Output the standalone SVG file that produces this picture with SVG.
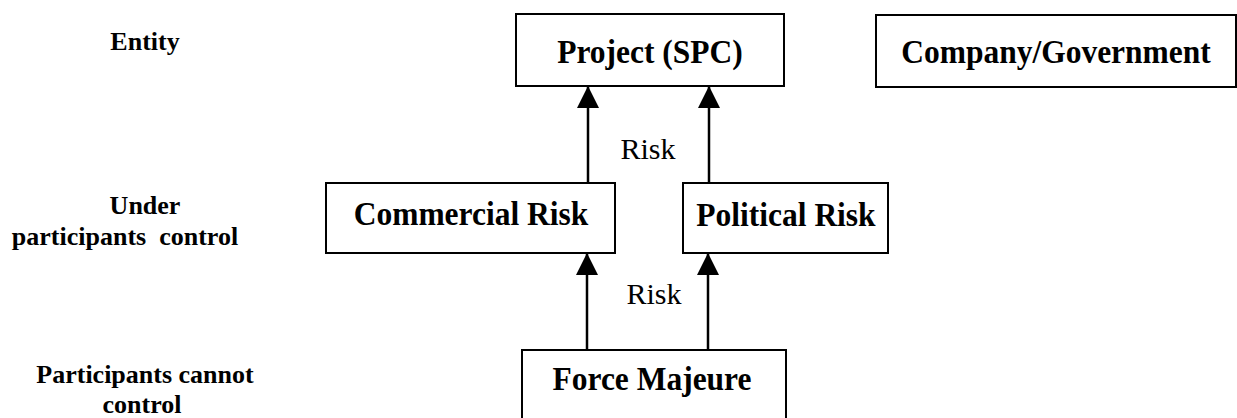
<svg xmlns="http://www.w3.org/2000/svg" width="1237" height="418" viewBox="0 0 1237 418" font-family="Liberation Serif, Times New Roman, serif">
  <style>
    .box { fill: #ffffff; stroke: #000000; stroke-width: 2; }
    .node-label { font-weight: bold; font-size: 31.5px; fill: #000000; text-anchor: middle; }
    .row-label { font-weight: bold; font-size: 26px; fill: #000000; text-anchor: middle; }
    .edge-label { font-size: 30px; fill: #000000; text-anchor: middle; }
    .edge { stroke: #000000; stroke-width: 2.5; fill: none; marker-end: url(#arrow); }
  </style>
  <defs>
    <marker id="arrow" viewBox="0 0 22 22" refX="22" refY="11" markerWidth="22" markerHeight="22" markerUnits="userSpaceOnUse" orient="auto">
      <path d="M0,0 L22,11 L0,22 z" fill="#000000"/>
    </marker>
  </defs>
  <rect width="1237" height="418" fill="#ffffff"/>

  <!-- row captions -->
  <g id="row-labels" font-family="Liberation Serif">
    <text class="row-label" x="145" y="50">Entity</text>
    <text class="row-label" x="145" y="214">Under</text>
    <text class="row-label" x="125" y="245" xml:space="preserve">participants  control</text>
    <text class="row-label" x="145" y="383">Participants cannot</text>
    <text class="row-label" x="142" y="413">control</text>
  </g>

  <g id="project" font-family="Liberation Serif">
    <rect class="box" x="516" y="14" width="268" height="72"/>
    <text class="node-label" transform="translate(650,63) scale(1,1.08)">Project (SPC)</text>
  </g>

  <g id="company-government" font-family="Liberation Serif">
    <rect class="box" x="876" y="15" width="360" height="72"/>
    <text class="node-label" transform="translate(1056,63) scale(1,1.08)">Company/Government</text>
  </g>

  <g id="commercial-risk" font-family="Liberation Serif">
    <rect class="box" x="326" y="183" width="289" height="70"/>
    <text class="node-label" transform="translate(471,225) scale(1,1.08)">Commercial Risk</text>
  </g>

  <g id="political-risk" font-family="Liberation Serif">
    <rect class="box" x="683" y="183" width="205" height="70"/>
    <text class="node-label" transform="translate(786,226) scale(1,1.08)">Political Risk</text>
  </g>

  <g id="force-majeure" font-family="Liberation Serif">
    <rect class="box" x="522" y="350" width="264" height="80"/>
    <text class="node-label" transform="translate(652,390) scale(1,1.08)">Force Majeure</text>
  </g>

  <g id="connectors" font-family="Liberation Serif">
    <line class="edge" x1="588" y1="183" x2="588" y2="86"/>
    <line class="edge" x1="709" y1="183" x2="709" y2="86"/>
    <line class="edge" x1="587" y1="350" x2="587" y2="253"/>
    <line class="edge" x1="708" y1="350" x2="708" y2="253"/>
    <text class="edge-label" x="648" y="159">Risk</text>
    <text class="edge-label" x="654" y="304">Risk</text>
  </g>
</svg>
